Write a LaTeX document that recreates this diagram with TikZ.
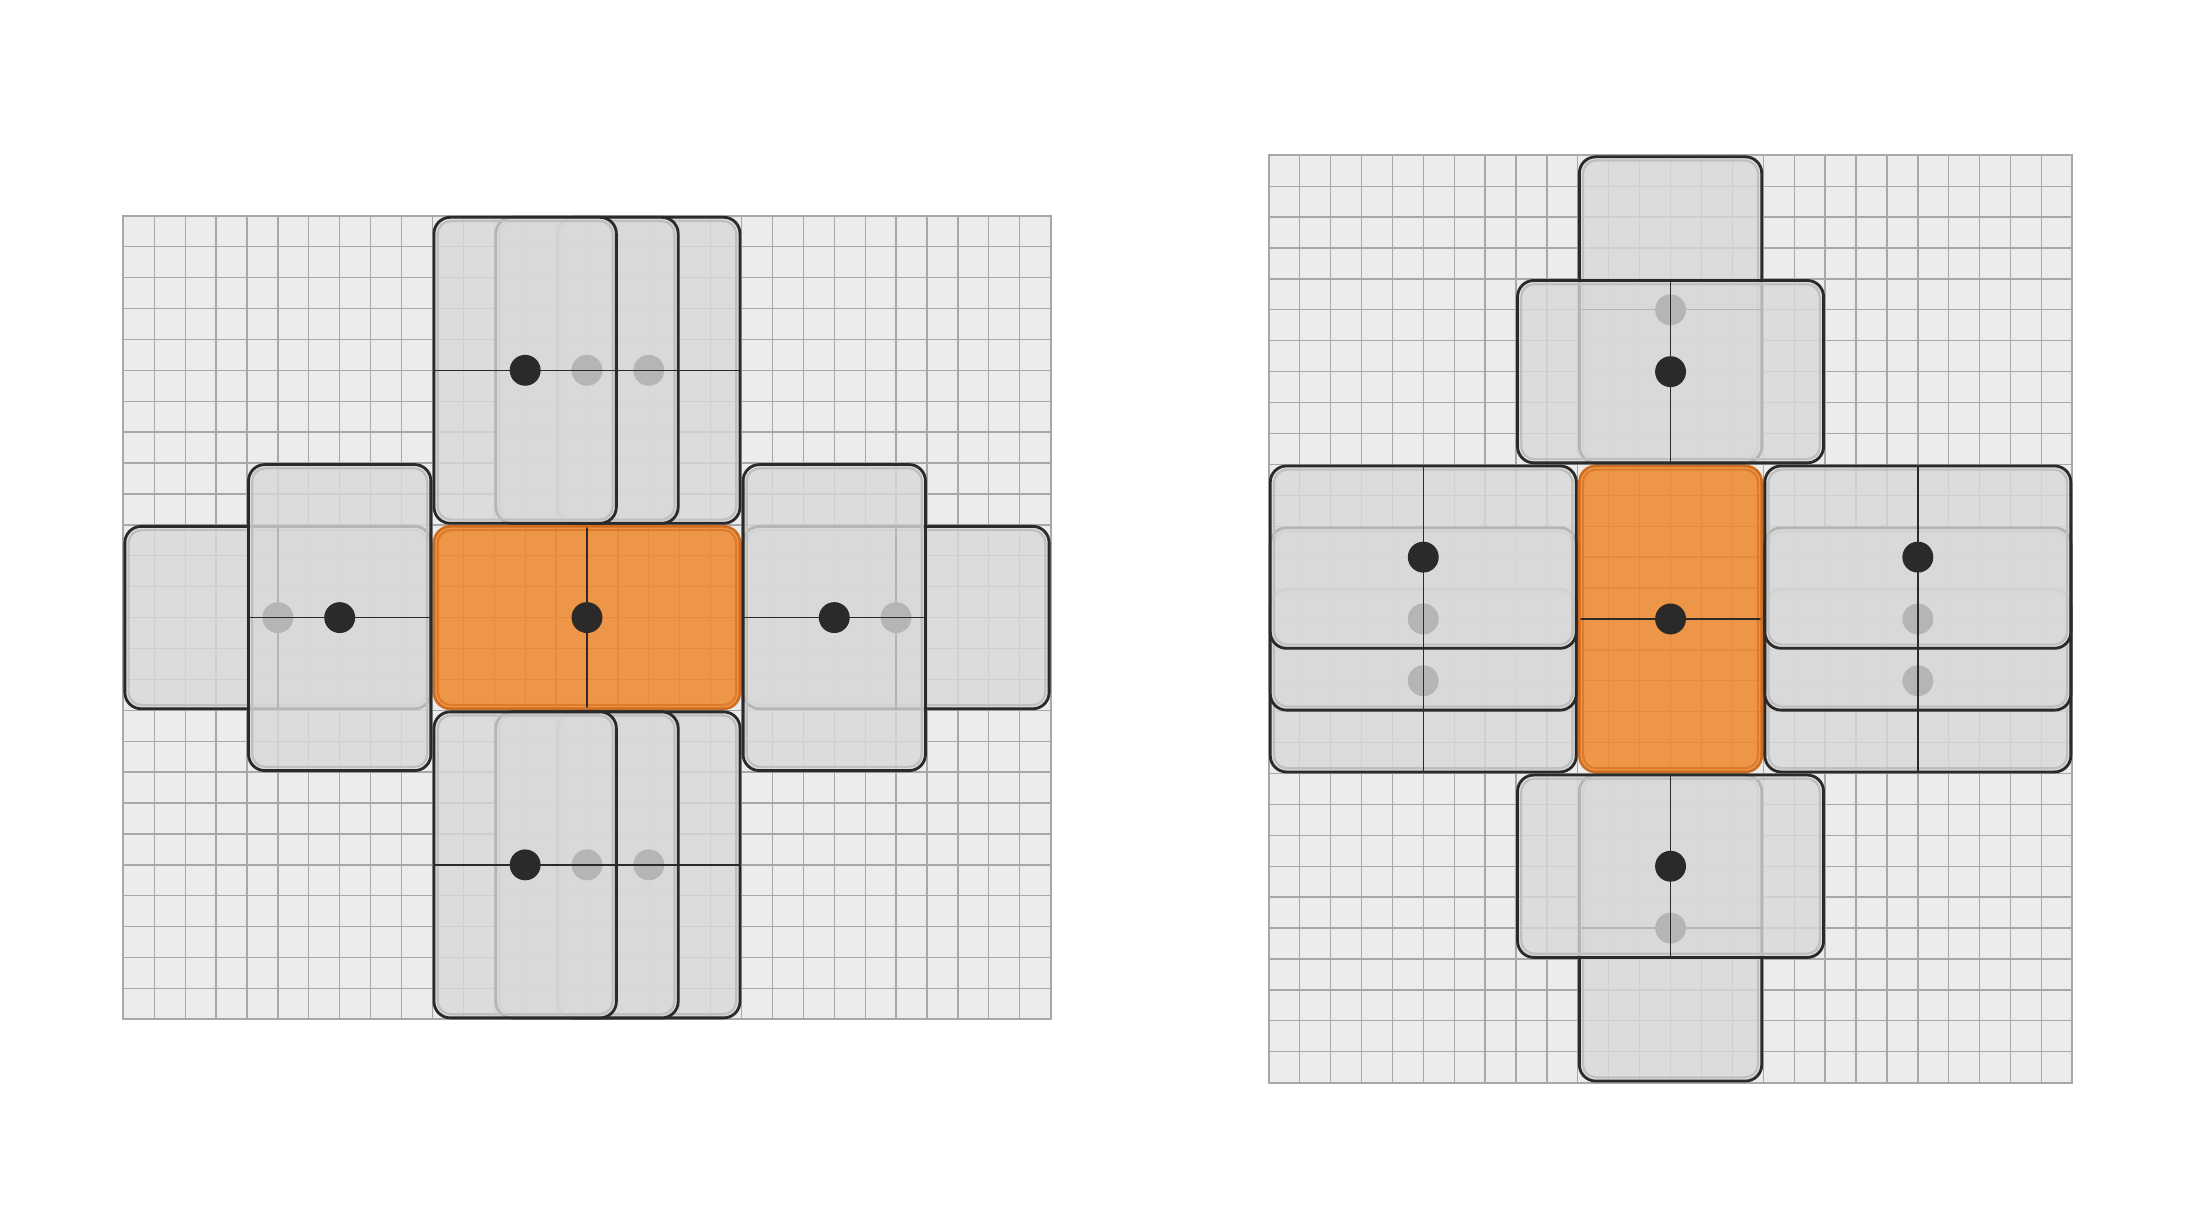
\documentclass[tikz,border=0pt]{standalone}
\definecolor{boardbg}{RGB}{235,236,235}
\definecolor{boardln}{RGB}{168,168,168}
\definecolor{tilegray}{RGB}{216,217,216}
\definecolor{ink}{RGB}{43,42,40}
\definecolor{hot}{RGB}{239,136,43}
\definecolor{hotrim}{RGB}{206,108,34}
\definecolor{hotbevel}{RGB}{222,122,44}

% board of w x h cells
\newcommand\board[2]{%
  \fill[boardbg] (0,0) rectangle (#1,#2);
  \foreach \i in {1,...,\numexpr#1-1\relax} \draw[boardline] (\i,0) -- (\i,#2);
  \foreach \j in {1,...,\numexpr#2-1\relax} \draw[boardline] (0,\j) -- (#1,\j);
  \draw[boardrim] (0,0) rectangle (#1,#2);
}
% lying domino (10 x 6), top left corner at (#1,#2)
\newcommand\htile[3]{%
  \fill[#3 fill] (#1+.05,#2+.05) rectangle (#1+9.95,#2+5.95);
  \draw[#3 bevel] (#1+.17,#2+.17) rectangle (#1+9.83,#2+5.83);
  \draw[midline] (#1+5,#2+.05) -- (#1+5,#2+5.95);
  \fill[pip] (#1+5,#2+3) circle (.5);
  \draw[#3 rim] (#1+.05,#2+.05) rectangle (#1+9.95,#2+5.95);
}
% standing domino (6 x 10)
\newcommand\vtile[3]{%
  \fill[#3 fill] (#1+.05,#2+.05) rectangle (#1+5.95,#2+9.95);
  \draw[#3 bevel] (#1+.17,#2+.17) rectangle (#1+5.83,#2+9.83);
  \draw[midline] (#1+.05,#2+5) -- (#1+5.95,#2+5);
  \fill[pip] (#1+3,#2+5) circle (.5);
  \draw[#3 rim] (#1+.05,#2+.05) rectangle (#1+5.95,#2+9.95);
}

\begin{document}
\begin{tikzpicture}[
  x=0.5cm, y=-0.5cm,
  boardline/.style={draw=boardln, line width=0.6pt},
  boardrim/.style={draw=boardln, line width=0.9pt},
  g fill/.style={fill=tilegray, fill opacity=0.8, rounded corners=7.5pt},
  g bevel/.style={draw=black!25, line width=1pt, rounded corners=6pt},
  g rim/.style={draw=ink, line width=1.3pt, rounded corners=7.5pt},
  o fill/.style={fill=hot, fill opacity=0.85, rounded corners=7.5pt},
  o bevel/.style={draw=hotbevel, line width=1pt, rounded corners=6pt},
  o rim/.style={draw=hotrim, line width=1.2pt, rounded corners=7.5pt},
  midline/.style={draw=ink, line width=0.6pt},
  pip/.style={fill=ink}
  ]
  \useasboundingbox (0,0) rectangle (70.98,38.98);

  % left board: lying centre
  \begin{scope}[shift={(3.99,6.98)}]
    \board{30}{26}
    \htile{10}{10}{o}
    % above
    \vtile{14}{0}{g}
    \vtile{12}{0}{g}
    \vtile{10}{0}{g}
    % below
    \vtile{14}{16}{g}
    \vtile{12}{16}{g}
    \vtile{10}{16}{g}
    % left
    \htile{0}{10}{g}
    \vtile{4}{8}{g}
    % right
    \htile{20}{10}{g}
    \vtile{20}{8}{g}
  \end{scope}

  % right board: standing centre
  \begin{scope}[shift={(41.045,5.024)}]
    \board{26}{30}
    \vtile{10}{10}{o}
    % above
    \vtile{10}{0}{g}
    \htile{8}{4}{g}
    % below
    \vtile{10}{20}{g}
    \htile{8}{20}{g}
    % left
    \htile{0}{14}{g}
    \htile{0}{12}{g}
    \htile{0}{10}{g}
    % right
    \htile{16}{14}{g}
    \htile{16}{12}{g}
    \htile{16}{10}{g}
  \end{scope}
\end{tikzpicture}
\end{document}
